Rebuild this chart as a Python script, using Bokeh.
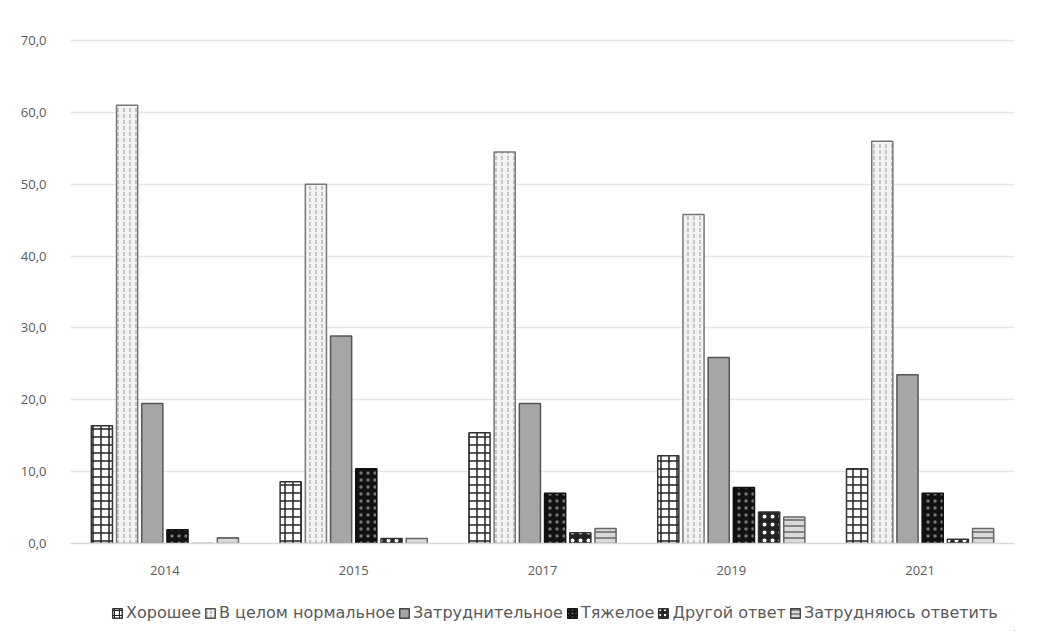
from bokeh.plotting import figure
from bokeh.layouts import column
from bokeh.models import ColumnDataSource, FactorRange, Legend, LegendItem, CustomJSTickFormatter, SingleIntervalTicker
from bokeh.transform import dodge
from bokeh.embed import file_html
from bokeh.resources import INLINE

years = ["2014", "2015", "2017", "2019", "2021"]
series_names = ["Хорошее", "В целом нормальное", "Затруднительное", "Тяжелое", "Другой ответ", "Затрудняюсь ответить"]
good = [16.4, 8.6, 15.4, 12.2, 10.4]
normal = [61.0, 50.0, 54.5, 45.8, 56.0]
difficult = [19.5, 28.9, 19.5, 25.9, 23.5]
hard = [1.9, 10.4, 7.0, 7.8, 7.0]
other = [0.0, 0.7, 1.5, 4.4, 0.6]
dunno = [0.8, 0.7, 2.1, 3.7, 2.1]

src = ColumnDataSource(dict(year=years, good=good, normal=normal, difficult=difficult,
                            hard=hard, other=other, dunno=dunno))

FONT = "Open Sans"
TXT = "#595959"

p = figure(x_range=FactorRange(*years), y_range=(0, 70.3),
           frame_width=944, frame_height=505,
           output_backend="svg", toolbar_location=None,
           min_border_left=70, min_border_right=7, min_border_top=38, min_border_bottom=44)
p.outline_line_color = None
p.xgrid.grid_line_color = None
p.ygrid.grid_line_color = "#e6e6e6"
p.ygrid.grid_line_width = 1.5

p.yaxis.ticker = SingleIntervalTicker(interval=10)
p.yaxis.formatter = CustomJSTickFormatter(code="return tick.toFixed(1).replace('.', ',');")
p.yaxis.axis_line_color = None
p.yaxis.major_tick_line_color = None
p.yaxis.minor_tick_line_color = None
p.yaxis.major_label_text_color = TXT
p.yaxis.major_label_text_font = FONT
p.yaxis.major_label_text_font_size = "13px"
p.yaxis.major_label_standoff = 18

p.xaxis.axis_line_color = "#d9d9d9"
p.xaxis.axis_line_width = 1.5
p.xaxis.major_tick_line_color = None
p.xaxis.minor_tick_line_color = None
p.xaxis.major_label_text_color = TXT
p.xaxis.major_label_text_font = FONT
p.xaxis.major_label_text_font_size = "13px"
p.xaxis.major_label_standoff = 16

step = 0.1335
w = 0.112
offs = [-2.5 * step, -1.5 * step, -0.5 * step, 0.5 * step, 1.5 * step, 2.5 * step]
cols = ["good", "normal", "difficult", "hard", "other", "dunno"]
styles = [
    dict(fill_color="white", line_color="#333333", hatch_pattern="cross", hatch_color="#222222", hatch_scale=8, hatch_weight=1.5),
    dict(fill_color="#f2f2f2", line_color="#777777", hatch_pattern="vertical_dash", hatch_color="#999999", hatch_scale=6, hatch_weight=1),
    dict(fill_color="#a6a6a6", line_color="#555555"),
    dict(fill_color="#111111", line_color="#111111", hatch_pattern="dot", hatch_color="#777777", hatch_scale=7, hatch_weight=2),
    dict(fill_color="#222222", line_color="#333333", hatch_pattern="dot", hatch_color="white", hatch_scale=8, hatch_weight=4),
    dict(fill_color="#d9d9d9", line_color="#666666", hatch_pattern="horizontal_line", hatch_color="#666666", hatch_scale=6, hatch_weight=1.5),
]
legend_styles = [
    dict(fill_color="white", line_color="#333333", hatch_pattern="cross", hatch_color="#222222", hatch_scale=5, hatch_weight=1),
    dict(fill_color="#f2f2f2", line_color="#555555", hatch_pattern="vertical_dash", hatch_color="#888888", hatch_scale=4, hatch_weight=1),
    dict(fill_color="#a6a6a6", line_color="#444444"),
    dict(fill_color="#111111", line_color="#111111", hatch_pattern="dot", hatch_color="#777777", hatch_scale=4, hatch_weight=1.5),
    dict(fill_color="#222222", line_color="#333333", hatch_pattern="dot", hatch_color="white", hatch_scale=5, hatch_weight=2.5),
    dict(fill_color="#d9d9d9", line_color="#444444", hatch_pattern="horizontal_line", hatch_color="#444444", hatch_scale=4, hatch_weight=1),
]

# legend strip as its own figure
lf = figure(width=1021, height=44, output_backend="svg", toolbar_location=None,
            min_border=0, x_range=(0, 1), y_range=(0, 1))
lf.axis.visible = False
lf.grid.visible = False
lf.outline_line_color = None

items = []
for col, off, st, lst, name in zip(cols, offs, styles, legend_styles, series_names):
    p.vbar(x=dodge("year", off, range=p.x_range), top=col, width=w, source=src,
           line_width=1.5, **st)
    r = lf.vbar(x=[50], bottom=[-20], top=[-10], width=0.1, line_width=1.5, **lst)
    items.append(LegendItem(label=name, renderers=[r]))

legend = Legend(items=items, orientation="horizontal", location=(41, 9),
                label_text_font="DejaVu Sans", label_text_font_size="16px", label_text_color=TXT,
                glyph_width=12, glyph_height=12, spacing=3, label_standoff=3,
                border_line_color=None, background_fill_alpha=0, margin=0, padding=2)
lf.add_layout(legend)

open("out.html", "w").write(file_html(column(p, lf, spacing=0), INLINE))
